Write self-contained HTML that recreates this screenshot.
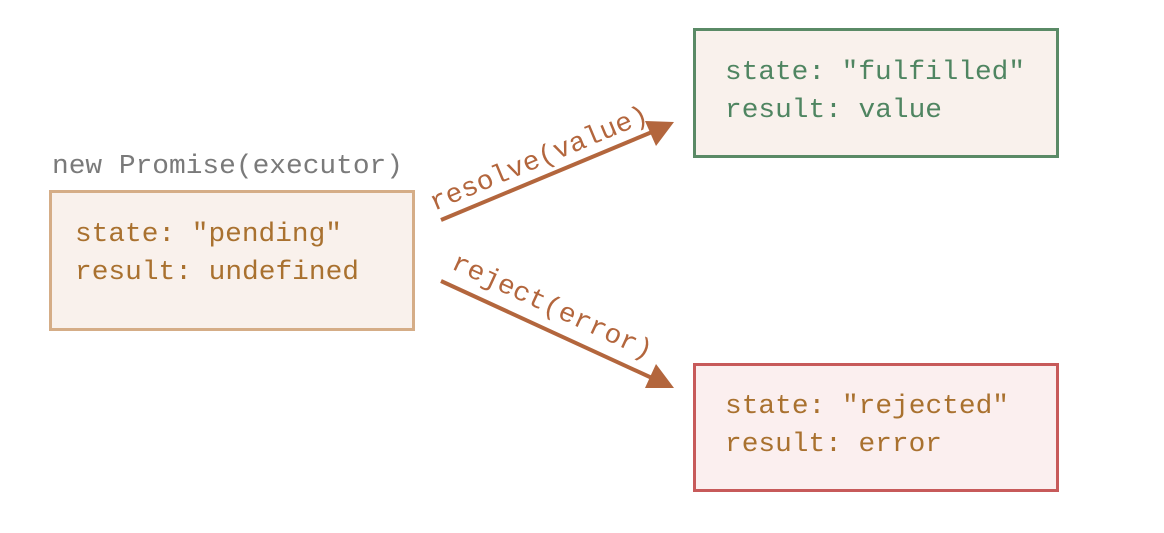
<!DOCTYPE html>
<html><head><style>
html,body{margin:0;padding:0;background:#fff;}
svg text{font-family:"Liberation Mono",monospace;}
</style></head><body>
<svg width="1164" height="528" viewBox="0 0 1164 528" xmlns="http://www.w3.org/2000/svg">
<text x="52" y="173" font-size="27" fill="#7a7a7a" textLength="351" lengthAdjust="spacingAndGlyphs">new Promise(executor)</text>
<rect x="50.5" y="191.5" width="363" height="138" fill="#f9f1ec" stroke="#d5ad87" stroke-width="3"/>
<text x="75" y="241" font-size="27" fill="#a9712f" textLength="267" lengthAdjust="spacingAndGlyphs">state: "pending"</text>
<text x="75" y="279" font-size="27" fill="#a9712f" textLength="284" lengthAdjust="spacingAndGlyphs">result: undefined</text>

<rect x="694.5" y="29.5" width="363" height="127" fill="#f9f1ec" stroke="#5a8a66" stroke-width="3"/>
<text x="725" y="79" font-size="27" fill="#4f8561" textLength="300" lengthAdjust="spacingAndGlyphs">state: "fulfilled"</text>
<text x="725" y="117" font-size="27" fill="#4f8561" textLength="217" lengthAdjust="spacingAndGlyphs">result: value</text>

<rect x="694.5" y="364.5" width="363" height="126" fill="#fbefef" stroke="#c75a5a" stroke-width="3"/>
<text x="725" y="413" font-size="27" fill="#a9712f" textLength="284" lengthAdjust="spacingAndGlyphs">state: "rejected"</text>
<text x="725" y="451" font-size="27" fill="#a9712f" textLength="217" lengthAdjust="spacingAndGlyphs">result: error</text>

<line x1="441" y1="220" x2="652" y2="132" stroke="#b3663d" stroke-width="4"/>
<polygon points="674,122 645,121 656,146" fill="#b3663d"/>
<line x1="441" y1="281" x2="652" y2="378" stroke="#b3663d" stroke-width="4"/>
<polygon points="674,388 656,364 645,388" fill="#b3663d"/>

<text transform="translate(434,211) rotate(-22.7)" font-size="27" fill="#b3663d" textLength="234" lengthAdjust="spacingAndGlyphs">resolve(value)</text>
<text transform="translate(450,268) rotate(24.8)" font-size="27" fill="#b3663d" textLength="218" lengthAdjust="spacingAndGlyphs">reject(error)</text>
</svg>
</body></html>
